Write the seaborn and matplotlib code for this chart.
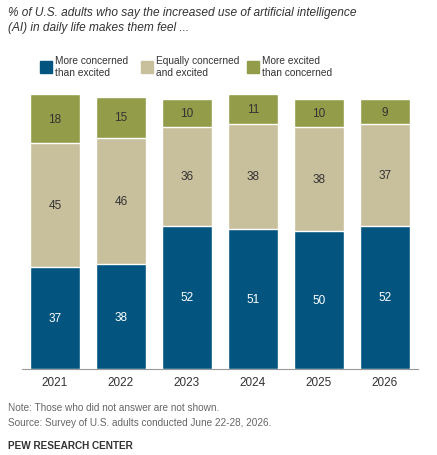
import matplotlib
matplotlib.use("Agg")
import matplotlib.pyplot as plt
import seaborn as sns
import pandas as pd
from matplotlib.patches import Rectangle

years = ["2021", "2022", "2023", "2024", "2025", "2026"]
concerned = [37, 38, 52, 51, 50, 52]
equal = [45, 46, 36, 38, 38, 37]
excited = [18, 15, 10, 11, 10, 9]
labels = ["More concerned\nthan excited", "Equally concerned\nand excited", "More excited\nthan concerned"]
colors = ["#03557f", "#c8bf9c", "#939c49"]

sns.set_style("white")
plt.rcParams['font.family'] = ['Liberation Sans', 'DejaVu Sans']

fig = plt.figure(figsize=(4.37, 4.56), dpi=100)
ax = fig.add_axes([0.05, 0.189, 0.906, 0.603])

df = pd.DataFrame({"year": years, "c": concerned, "e": equal, "x": excited})
series = [("c", concerned), ("e", equal), ("x", excited)]
bottom = [0] * len(years)
for i, (key, vals) in enumerate(series):
    top = [b + v for b, v in zip(bottom, vals)]
    sns.barplot(x=years, y=top, color=colors[i], ax=ax, width=0.76, zorder=3 - i, saturation=1)
    bottom = top
# write labels
bottom = [0] * len(years)
for i, (key, vals) in enumerate(series):
    for j, v in enumerate(vals):
        ax.text(j, bottom[j] + v / 2, str(v), ha="center", va="center", fontsize=8.5,
                color="white" if i == 0 else "#333333", zorder=10)
        bottom[j] += v

ax.set_xlim(-0.5, 5.5)
ax.set_ylim(0, 100)
ax.set_yticks([])
ax.set_ylabel("")
for s in ["top", "right", "left"]:
    ax.spines[s].set_visible(False)
ax.spines["bottom"].set_color("#999999")
ax.tick_params(axis="x", length=0, labelsize=8.5, colors="#333333", pad=5)

fig.text(0.018, 0.985, "% of U.S. adults who say the increased use of artificial intelligence\n(AI) in daily life makes them feel ...",
         ha="left", va="top", fontsize=8.6, style="italic", color="#333333", linespacing=1.4)

lx = [40, 141, 247]
for k in range(3):
    fig.patches.append(Rectangle((lx[k] / 437, 1 - 74 / 456), 12 / 437, 12 / 456,
                                 transform=fig.transFigure, color=colors[k]))
    fig.text((lx[k] + 15) / 437, 1 - 67 / 456, labels[k], ha="left", va="center",
             fontsize=7.3, color="#333333", linespacing=1.2)

fig.text(0.018, 1 - 408 / 456, "Note: Those who did not answer are not shown.", fontsize=7.2, color="#666666", va="center")
fig.text(0.018, 1 - 423 / 456, "Source: Survey of U.S. adults conducted June 22-28, 2026.", fontsize=7.2, color="#666666", va="center")
fig.text(0.018, 1 - 446 / 456, "PEW RESEARCH CENTER", fontsize=7.2, color="#333333", weight="bold", va="center")

fig.savefig("out.png", dpi=100)
